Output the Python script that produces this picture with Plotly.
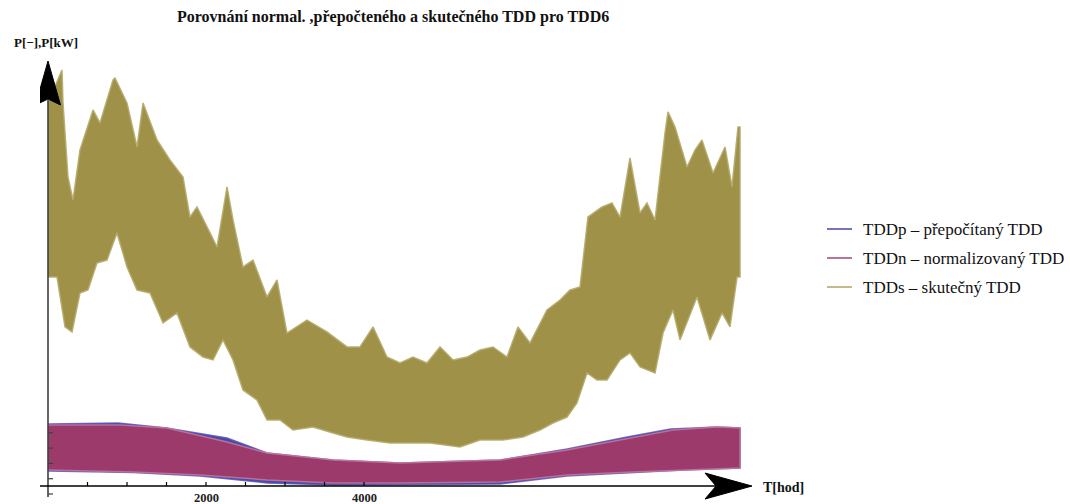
import plotly.graph_objects as go

# ---- data: hourly power over the year, drawn as min/max envelopes ----
# TDDs - measured (kW)
tdds_up_h = [0, 177, 190, 253, 316, 405, 570, 658, 823, 848, 1000, 1127, 1203, 1380, 1544,
             1709, 1797, 1886, 2051, 2139, 2266, 2342, 2468, 2595, 2772, 2899, 3025, 3278,
             3532, 3785, 3949, 4114, 4291, 4456, 4620, 4797, 4962, 5127, 5304, 5468, 5633,
             5810, 5949, 6101, 6316, 6481, 6608, 6734, 6835, 7013, 7139, 7241, 7367, 7494,
             7582, 7684, 7810, 7848, 7937, 8089, 8190, 8278, 8418, 8570, 8658, 8734, 8760]
tdds_up = [2.556, 2.771, 2.556, 2.072, 1.922, 2.248, 2.510, 2.425, 2.706, 2.719, 2.556, 2.268,
           2.556, 2.314, 2.183, 2.072, 1.810, 1.876, 1.706, 1.614, 2.007, 1.791, 1.484, 1.529,
           1.288, 1.399, 1.052, 1.137, 1.059, 0.961, 0.961, 1.092, 0.895, 0.856, 0.895, 0.856,
           0.961, 0.876, 0.895, 0.941, 0.961, 0.895, 1.092, 0.987, 1.203, 1.268, 1.333, 1.353,
           1.810, 1.876, 1.902, 1.810, 2.196, 1.837, 1.902, 1.791, 2.359, 2.497, 2.399, 2.137,
           2.248, 2.314, 2.098, 2.268, 2.007, 2.399, 2.399]
tdds_lo_h = [0, 114, 215, 304, 405, 506, 620, 747, 873, 1000, 1127, 1291, 1456, 1633, 1797,
             1962, 2089, 2215, 2342, 2468, 2646, 2772, 2937, 3101, 3354, 3608, 3785, 4038,
             4329, 4582, 4835, 5215, 5468, 5759, 6013, 6228, 6392, 6570, 6696, 6823, 6949,
             7076, 7241, 7367, 7494, 7684, 7785, 7911, 8000, 8215, 8380, 8532, 8633, 8722, 8760]
tdds_lo = [1.418, 1.418, 1.092, 1.059, 1.314, 1.333, 1.510, 1.529, 1.706, 1.484, 1.333, 1.314,
           1.118, 1.183, 0.961, 0.895, 0.876, 1.007, 0.876, 0.680, 0.614, 0.484, 0.484, 0.418,
           0.438, 0.399, 0.373, 0.353, 0.333, 0.333, 0.333, 0.307, 0.353, 0.353, 0.373, 0.418,
           0.464, 0.503, 0.595, 0.791, 0.745, 0.745, 0.876, 0.922, 0.830, 0.791, 1.052, 1.203,
           1.007, 1.288, 1.007, 1.183, 1.092, 1.418, 1.418]

# TDDn - normalised
tddn_up_h = [0, 911, 1506, 2266, 2772, 3608, 4456, 5722, 6570, 7405, 7911, 8468, 8760]
tddn_up = [0.451, 0.451, 0.431, 0.340, 0.268, 0.222, 0.203, 0.222, 0.288, 0.366, 0.418, 0.438, 0.431]
tddn_lo_h = [0, 1076, 1924, 2772, 3608, 4456, 5722, 6570, 7405, 8038, 8760]
tddn_lo = [0.157, 0.144, 0.124, 0.092, 0.072, 0.072, 0.078, 0.124, 0.144, 0.157, 0.170]

# TDDp - recalculated
tddp_up_h = [0, 890, 1500, 2266, 2772, 3608, 4456, 5722, 6570, 7330, 7880, 8468, 8760]
tddp_up = [0.458, 0.464, 0.431, 0.366, 0.268, 0.222, 0.203, 0.222, 0.294, 0.373, 0.425, 0.438, 0.431]
tddp_lo_h = [0, 1076, 1924, 2772, 3608, 4456, 5722, 6570, 7405, 8038, 8760]
tddp_lo = [0.150, 0.140, 0.118, 0.072, 0.059, 0.059, 0.065, 0.118, 0.140, 0.157, 0.170]

x_ticks_minor = [500, 1000, 1500, 2000, 2500, 3000, 3500, 4000]
x_tick_labels = [2000, 4000]
y_ticks = [0.0, 0.1, 0.2, 0.3, 0.4]

legend_names = ["TDDp – přepočítaný TDD", "TDDn – normalizovaný TDD", "TDDs – skutečný TDD"]
legend_colors = ["#4b44a0", "#a0467c", "#b1a462"]

W, H = 1070, 504
ML, MR, MT, MB = 40, 315, 55, 4
X0, X1 = -101.3, 8949.4
Y0, Y1 = -0.0392, 2.869
XPP = (X1 - X0) / (W - ML - MR)      # hours per pixel
YPP = (Y1 - Y0) / (H - MT - MB)      # units per pixel
AXIS_Y = 0.052                       # level at which the time axis crosses


def band(xu, yu, xl, yl):
    return list(xu) + list(xl)[::-1], list(yu) + list(yl)[::-1]


def px_paper(px, py):
    return (px - ML) / (W - ML - MR), (H - MB - py) / (H - MT - MB)


fig = go.Figure()
for (xu, yu, xl, yl, fillc, linec) in [
    (tdds_up_h, tdds_up, tdds_lo_h, tdds_lo, "rgba(154,140,62,0.95)", "rgba(181,170,108,0.9)"),
    (tddp_up_h, tddp_up, tddp_lo_h, tddp_lo, "rgba(62,64,165,0.95)", "rgba(80,80,180,0.8)"),
    (tddn_up_h, tddn_up, tddn_lo_h, tddn_lo, "rgba(156,58,108,1)", "rgba(192,118,156,0.9)"),
]:
    bx, by = band(xu, yu, xl, yl)
    fig.add_trace(go.Scatter(x=bx, y=by, mode="lines", fill="toself", fillcolor=fillc,
                             line=dict(color=linec, width=1.5), hoverinfo="skip", showlegend=False))

shapes = []
# vertical axis with arrow head
shapes.append(dict(type="line", xref="x", yref="y", x0=0, x1=0, y0=AXIS_Y - 11 * YPP,
                   y1=Y1 - 45 * YPP, line=dict(color="#404040", width=1.6), layer="above"))
tip_y = Y1 - 6 * YPP
shapes.append(dict(type="path", xref="x", yref="y", fillcolor="black", line=dict(color="black", width=1),
                   path=f"M 0 {tip_y} L {-12.5 * XPP} {tip_y - 44 * YPP} L 0 {tip_y - 38 * YPP} "
                        f"L {12.5 * XPP} {tip_y - 44 * YPP} Z", layer="above"))
for v in y_ticks:
    shapes.append(dict(type="line", xref="x", yref="y", x0=0, x1=5 * XPP, y0=v, y1=v,
                       line=dict(color="#404040", width=1.2), layer="above"))
# horizontal axis with arrow head
tip_x = X1 - 3 * XPP
shapes.append(dict(type="line", xref="x", yref="y", x0=-14 * XPP, x1=tip_x - 36 * XPP,
                   y0=AXIS_Y, y1=AXIS_Y, line=dict(color="black", width=1.6), layer="above"))
shapes.append(dict(type="path", xref="x", yref="y", fillcolor="black", line=dict(color="black", width=1),
                   path=f"M {tip_x} {AXIS_Y} L {tip_x - 47 * XPP} {AXIS_Y + 13 * YPP} "
                        f"L {tip_x - 36 * XPP} {AXIS_Y} L {tip_x - 47 * XPP} {AXIS_Y - 13 * YPP} Z",
                   layer="above"))
for t in x_ticks_minor:
    shapes.append(dict(type="line", xref="x", yref="y", x0=t, x1=t, y0=AXIS_Y, y1=AXIS_Y + 4 * YPP,
                       line=dict(color="black", width=1.2), layer="above"))

SERIF = "Liberation Serif"
ann = []
# legend drawn as line samples + labels
LEG_TOP = 229
for i, (name, col) in enumerate(zip(legend_names, legend_colors)):
    py = LEG_TOP + 29 * i
    xa, yp = px_paper(827, py)
    xb, _ = px_paper(852, py)
    shapes.append(dict(type="line", xref="paper", yref="paper", x0=xa, x1=xb, y0=yp, y1=yp,
                       line=dict(color=col, width=1.5)))
    xt, _ = px_paper(861, py)
    ann.append(dict(xref="paper", yref="paper", x=xt, y=yp, text=name, showarrow=False,
                    xanchor="left", yanchor="middle", font=dict(family=SERIF, size=17, color="#111")))

for t in x_tick_labels:
    ann.append(dict(xref="x", yref="y", x=t, y=AXIS_Y - 12 * YPP, text=f"<b>{t}</b>", showarrow=False,
                    xanchor="center", yanchor="middle", font=dict(family=SERIF, size=12.5, color="#222")))

tx, ty = px_paper(393, 17)
ann.append(dict(xref="paper", yref="paper", x=tx, y=ty,
                text="<b>Porovnání normal. ,přepočteného a skutečného TDD pro TDD6</b>", showarrow=False,
                xanchor="center", yanchor="middle", font=dict(family=SERIF, size=16, color="#111")))
tx, ty = px_paper(12, 42)
ann.append(dict(xref="paper", yref="paper", x=tx, y=ty, text="<b>P[−],P[kW]</b>", showarrow=False,
                xanchor="left", yanchor="middle", font=dict(family=SERIF, size=13, color="#111")))
tx, ty = px_paper(761, 487)
ann.append(dict(xref="paper", yref="paper", x=tx, y=ty, text="<b>T[hod]</b>", showarrow=False,
                xanchor="left", yanchor="middle", font=dict(family=SERIF, size=14, color="#111")))

fig.update_layout(
    width=W, height=H, margin=dict(l=ML, r=MR, t=MT, b=MB),
    paper_bgcolor="white", plot_bgcolor="white",
    xaxis=dict(range=[X0, X1], visible=False, fixedrange=True),
    yaxis=dict(range=[Y0, Y1], visible=False, fixedrange=True),
    shapes=shapes, annotations=ann, showlegend=False,
)
fig.write_html("out.html", config={"displayModeBar": False})
